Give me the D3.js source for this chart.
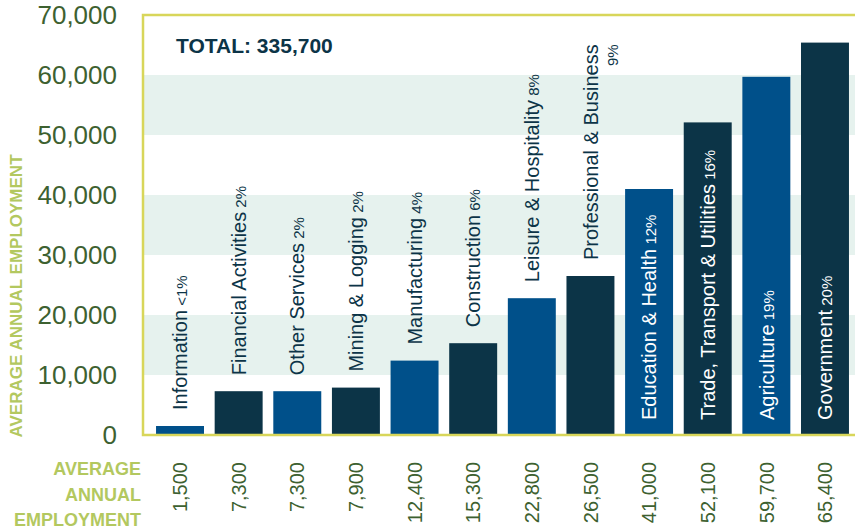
<!DOCTYPE html>
<html>
<head>
<meta charset="utf-8">
<script src="https://cdn.jsdelivr.net/npm/d3@7"></script>
<style>
  body { margin: 0; background: #fff; }
  text { font-family: "Liberation Sans", Arial, sans-serif; }
</style>
</head>
<body>
<script>
// data
var sectors = ["Information", "Financial Activities", "Other Services", "Mining & Logging",
               "Manufacturing", "Construction", "Leisure & Hospitality", "Professional & Business",
               "Education & Health", "Trade, Transport & Utilities", "Agriculture", "Government"];
var employment = [1500, 7300, 7300, 7900, 12400, 15300, 22800, 26500, 41000, 52100, 59700, 65400];
var shares = ["<1%", "2%", "2%", "2%", "4%", "6%", "8%", "9%", "12%", "16%", "19%", "20%"];
var yTicks = [0, 10000, 20000, 30000, 40000, 50000, 60000, 70000];
var totalLabel = "TOTAL: 335,700";

function init()
{
    var w = 855;
    var h = 531;

    var blue = "#00508a",
        navy = "#0c3447",
        green = "#3d6130",
        lime = "#b3c85f",
        frame = "#d8d65a",
        band = "#e6f2ee";

    var svg = d3.select("body")
                .append("svg")
                .attr("width", w)
                .attr("height", h);

    var y = d3.scaleLinear()
              .domain([0, 70000])
              .range([435, 15]);

    var x = d3.scaleBand()
              .domain(sectors)
              .range([150.7, 854.3])
              .paddingInner(0.182)
              .paddingOuter(0.091);

    // shaded bands
    svg.selectAll("rect.band")
       .data([10000, 30000, 50000])
       .enter()
       .append("rect")
       .attr("class", "band")
       .attr("x", 144)
       .attr("width", w - 144)
       .attr("y", function(d) { return y(d + 10000); })
       .attr("height", function(d) { return y(d) - y(d + 10000); })
       .attr("fill", band);

    // bars
    svg.selectAll("rect.bar")
       .data(employment)
       .enter()
       .append("rect")
       .attr("class", "bar")
       .attr("x", function(d, i) { return x(sectors[i]); })
       .attr("width", x.bandwidth())
       .attr("y", function(d) { return y(d); })
       .attr("height", function(d) { return y(0) - y(d); })
       .attr("fill", function(d, i) { return i % 2 == 0 ? blue : navy; });

    // frame
    svg.append("path")
       .attr("d", "M" + w + "," + y(70000) + "H143V" + y(0) + "H" + w)
       .attr("fill", "none")
       .attr("stroke", frame)
       .attr("stroke-width", 2.5);

    // y tick labels
    svg.selectAll("text.tick")
       .data(yTicks)
       .enter()
       .append("text")
       .attr("class", "tick")
       .attr("x", 117)
       .attr("y", function(d) { return y(d); })
       .attr("dy", "0.36em")
       .attr("text-anchor", "end")
       .attr("fill", green)
       .style("font-size", "26px")
       .text(d3.format(","));

    // y axis title
    svg.append("text")
       .attr("transform", "translate(16,296) rotate(-90)")
       .attr("dy", "0.36em")
       .attr("text-anchor", "middle")
       .attr("fill", lime)
       .style("font-size", "17px")
       .style("font-weight", "bold")
       .text("AVERAGE ANNUAL EMPLOYMENT");

    // bottom row title
    svg.selectAll("text.rowtitle")
       .data(["AVERAGE", "ANNUAL", "EMPLOYMENT"])
       .enter()
       .append("text")
       .attr("class", "rowtitle")
       .attr("x", 141)
       .attr("y", function(d, i) { return 475 + i * 25.5; })
       .attr("text-anchor", "end")
       .attr("fill", lime)
       .style("font-size", "18px")
       .style("font-weight", "bold")
       .text(function(d) { return d; });

    // value labels under the axis
    svg.selectAll("text.value")
       .data(employment)
       .enter()
       .append("text")
       .attr("class", "value")
       .attr("transform", function(d, i) {
           return "translate(" + (x(sectors[i]) + x.bandwidth() / 2) + ",462) rotate(-90)";
       })
       .attr("dy", "0.36em")
       .attr("text-anchor", "end")
       .attr("fill", green)
       .style("font-size", "20px")
       .text(d3.format(","));

    // sector labels
    var labels = svg.selectAll("text.cat")
       .data(employment)
       .enter()
       .append("text")
       .attr("class", "cat")
       .attr("transform", function(d, i) {
           var base = d > 40000 ? y(0) - 15 : y(d) - 16;
           return "translate(" + (x(sectors[i]) + x.bandwidth() / 2) + "," + base + ") rotate(-90)";
       })
       .attr("dy", "0.36em")
       .attr("fill", function(d) { return d > 40000 ? "#fff" : navy; })
       .style("font-size", "20px");

    labels.append("tspan")
          .text(function(d, i) { return sectors[i]; });

    labels.filter(function(d, i) { return sectors[i] != "Professional & Business"; })
          .append("tspan")
          .style("font-size", "15px")
          .text(function(d, i) { return " " + shares[employment.indexOf(d)]; });

    // the one share that wraps onto a second line
    labels.filter(function(d, i) { return sectors[i] == "Professional & Business"; })
          .each(function(d) {
              var i = employment.indexOf(d);
              var len = this.getComputedTextLength();
              var base = y(d) - 16;
              svg.append("text")
                 .attr("transform", "translate(" + (x(sectors[i]) + x.bandwidth() / 2 + 22) + "," + base + ") rotate(-90)")
                 .attr("x", len)
                 .attr("dy", "0.36em")
                 .attr("text-anchor", "end")
                 .attr("fill", navy)
                 .style("font-size", "15px")
                 .text(shares[i]);
          });

    // total
    svg.append("text")
       .attr("x", 176)
       .attr("y", 53)
       .attr("fill", navy)
       .style("font-size", "21px")
       .style("font-weight", "bold")
       .text(totalLabel);
}
window.onload = init
</script>
</body>
</html>
